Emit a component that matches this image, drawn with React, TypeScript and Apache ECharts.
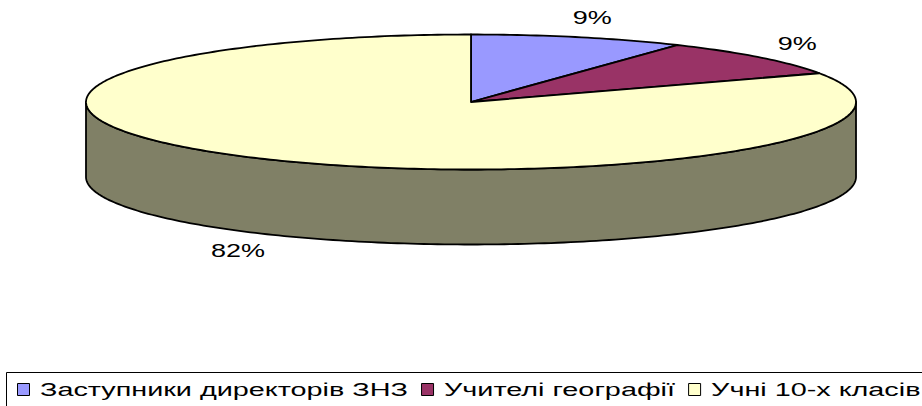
import { useEffect, useRef } from "react";
import * as echarts from "echarts";

const categories = ["Заступники директорів ЗНЗ", "Учителі географії", "Учні 10-х класів"];
const values = [9, 9, 82];
const topColors = ["#9999FF", "#993366", "#FFFFCC"];
const sideColors = ["#4D4D80", "#4D1A33", "#808066"];

const CX = 471;
const CY = 102;
const RX = 385;
const RY = 67.5;
const DEPTH = 75;
const FONT = '18px "Liberation Sans", Arial, sans-serif';
const TEXT_SCALE = 1.6;

export default function App() {
  const ref = useRef<HTMLDivElement>(null);
  useEffect(() => {
    if (!ref.current) return;
    const chart = echarts.init(ref.current, undefined, { renderer: "svg" });
    const total = values.reduce((a, b) => a + b, 0);
    const starts: number[] = [];
    let acc = 0;
    values.forEach((v) => {
      starts.push(acc);
      acc += v;
    });
    const pt = (t: number, dy = 0, rx = RX, ry = RY) => [CX + rx * Math.sin(t), CY - ry * Math.cos(t) + dy];
    const step = Math.PI / 180;

    // legend via graphic
    const canvas = document.createElement("canvas");
    const ctx = canvas.getContext("2d")!;
    ctx.font = FONT;
    const legendEls: any[] = [
      {
        type: "rect",
        shape: { x: 6.5, y: 372.5, width: 1000, height: 100 },
        style: { fill: "none", stroke: "#000", lineWidth: 1 },
        silent: true,
      },
    ];
    let lx = 17;
    categories.forEach((name, i) => {
      legendEls.push({
        type: "rect",
        shape: { x: lx + 0.5, y: 383.5, width: 12, height: 12 },
        style: { fill: topColors[i], stroke: "#000", lineWidth: 1 },
      });
      const w = ctx.measureText(name).width;
      legendEls.push({
        type: "text",
        x: lx + 23,
        y: 390,
        scaleX: TEXT_SCALE,
        style: { text: name, x: 0, y: 0, align: "left", verticalAlign: "middle", fill: "#000", font: FONT },
      });
      lx += 23 + w * TEXT_SCALE + 13;
    });

    chart.setOption({
      animation: false,
      backgroundColor: "#fff",
      graphic: legendEls,
      series: [
        {
          type: "custom",
          coordinateSystem: "none",
          data: values.map((v, i) => ({ value: v, name: categories[i] })),
          renderItem: (params: any, api: any) => {
            const i = params.dataIndex;
            const v = api.value(0);
            const a0 = (starts[i] / total) * 2 * Math.PI;
            const a1 = a0 + (v / total) * 2 * Math.PI;
            const children: any[] = [];
            const f0 = Math.max(a0, Math.PI / 2);
            const f1 = Math.min(a1, (3 * Math.PI) / 2);
            if (f1 > f0) {
              const top: number[][] = [];
              const bot: number[][] = [];
              const n = Math.max(2, Math.ceil((f1 - f0) / step));
              for (let k = 0; k <= n; k++) {
                const t = f0 + ((f1 - f0) * k) / n;
                top.push(pt(t));
                bot.push(pt(t, DEPTH));
              }
              children.push({
                type: "polygon",
                z2: 1,
                shape: { points: top.concat(bot.reverse()) },
                style: { fill: sideColors[i], stroke: "#000", lineWidth: 1.8, lineJoin: "round" },
              });
            }
            const pts: number[][] = [[CX, CY]];
            const n = Math.max(2, Math.ceil((a1 - a0) / step));
            for (let k = 0; k <= n; k++) pts.push(pt(a0 + ((a1 - a0) * k) / n));
            children.push({
              type: "polygon",
              z2: 10,
              shape: { points: pts },
              style: { fill: topColors[i], stroke: "#000", lineWidth: 1.8, lineJoin: "round" },
            });
            const m = (a0 + a1) / 2;
            const front = Math.cos(m) < 0;
            const lp = pt(m, front ? DEPTH : 0, RX + 50, RY + 20);
            children.push({
              type: "text",
              z2: 20,
              x: lp[0],
              y: lp[1],
              scaleX: 1.5,
              style: {
                text: Math.round((v / total) * 100) + "%",
                x: 0,
                y: 0,
                align: "center",
                verticalAlign: "middle",
                fill: "#000",
                font: FONT,
              },
            });
            return { type: "group", children };
          },
        },
      ],
    });
    return () => chart.dispose();
  }, []);
  return <div ref={ref} style={{ position: "fixed", left: 0, top: 0, width: 922, height: 406 }} />;
}
